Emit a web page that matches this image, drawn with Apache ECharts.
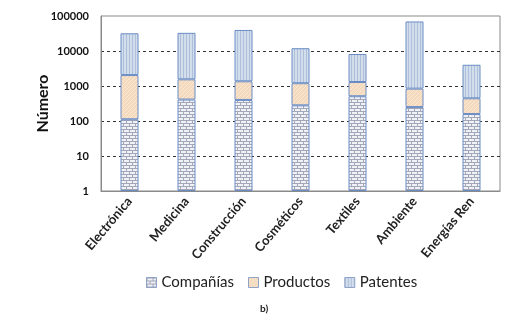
<!DOCTYPE html>
<html>
<head>
<meta charset="utf-8">
<script src="https://cdn.jsdelivr.net/npm/echarts@6/dist/echarts.min.js"></script>
<style>
  html, body { margin: 0; padding: 0; background: #fff; }
  #main { width: 525px; height: 321px; }
</style>
</head>
<body>
<div id="main"></div>
<script>
// categories and values (stacks add up to the segment tops)
const categories = ['Electrónica', 'Medicina', 'Construcción', 'Cosméticos', 'Textiles', 'Ambiente', 'Energías Ren']
const companias = [112, 410, 400, 280, 510, 250, 158]
const productos = [1940, 1140, 960, 920, 790, 590, 287]
const patentes = [30000, 31500, 38600, 10800, 6900, 69000, 3600]
const yTicks = [1, 10, 100, 1000, 10000, 100000]

// small canvas textures for the fills
const makePattern = (w, h, draw) => {
    const c = document.createElement('canvas')
    c.width = w
    c.height = h
    draw(c.getContext('2d'))
    return { image: c, repeat: 'repeat' }
}
const brick = makePattern(6, 6, ctx => {
    ctx.fillStyle = '#f1f2f6'
    ctx.fillRect(0, 0, 6, 6)
    ctx.fillStyle = '#a3a7ba'
    ctx.fillRect(0, 0, 6, 1)
    ctx.fillRect(0, 3, 6, 1)
    ctx.fillRect(0, 0, 1, 3)
    ctx.fillRect(3, 3, 1, 3)
})
const peach = makePattern(4, 4, ctx => {
    ctx.fillStyle = '#f4d9bd'
    ctx.fillRect(0, 0, 4, 4)
    ctx.fillStyle = '#f9e9d8'
    for (let i = 0; i < 4; i++) ctx.fillRect(i, 3 - i, 1, 1)
})
const blue = makePattern(3, 3, ctx => {
    ctx.fillStyle = '#d3deed'
    ctx.fillRect(0, 0, 3, 3)
    ctx.fillStyle = '#aebfd9'
    ctx.fillRect(0, 0, 1, 3)
})

const chart = echarts.init(document.getElementById('main'))
const font = 'Lato, "Open Sans", sans-serif'
const barStyle = (fill) => ({
    color: fill,
    borderColor: '#6a8cc4',
    borderWidth: 1
})
const option = {
    animation: false,
    textStyle: { fontFamily: font },
    grid: {
        left: 101, right: 25, top: 16, bottom: 130,
        show: true, borderColor: '#8a8a8a', borderWidth: 1
    },
    legend: {
        top: 270,
        left: 141,
        icon: 'rect',
        itemWidth: 10,
        itemHeight: 10,
        itemGap: 14,
        itemStyle: { borderColor: '#8fa3c7', borderWidth: 1 },
        textStyle: { fontSize: 15, color: '#222', fontFamily: font }
    },
    xAxis: {
        type: 'category',
        data: categories,
        axisTick: { show: false },
        axisLine: { lineStyle: { color: '#8a8a8a' } },
        axisLabel: {
            rotate: 50,
            fontSize: 13,
            fontWeight: 'bold',
            color: '#222',
            margin: 8
        }
    },
    yAxis: {
        type: 'log',
        logBase: 10,
        min: yTicks[0],
        max: yTicks[yTicks.length - 1],
        name: 'Número',
        nameLocation: 'middle',
        nameGap: 50,
        nameMoveOverlap: false,
        nameTextStyle: { fontSize: 16, fontWeight: 'bold', color: '#111' },
        axisLine: { show: true, lineStyle: { color: '#8a8a8a' } },
        axisTick: { show: false },
        axisLabel: {
            fontSize: 11, fontWeight: 'bold', color: '#111', margin: 12,
            formatter: v => String(Math.round(v))
        },
        splitLine: {
            show: true,
            showMinLine: false,
            showMaxLine: false,
            lineStyle: { color: '#333', type: [3, 3], width: 1 }
        }
    },
    series: [
        { name: 'Compañías', type: 'bar', stack: 'total', barWidth: 18, data: companias, itemStyle: barStyle(brick) },
        { name: 'Productos', type: 'bar', stack: 'total', barWidth: 18, data: productos, itemStyle: barStyle(peach) },
        { name: 'Patentes', type: 'bar', stack: 'total', barWidth: 18, data: patentes, itemStyle: barStyle(blue) }
    ],
    graphic: [
        {
            type: 'text', left: 260, top: 304,
            style: { text: 'b)', fontSize: 10, fontWeight: 'bold', fill: '#222', fontFamily: font }
        }
    ]
}
chart.setOption(option)
</script>
</body>
</html>
